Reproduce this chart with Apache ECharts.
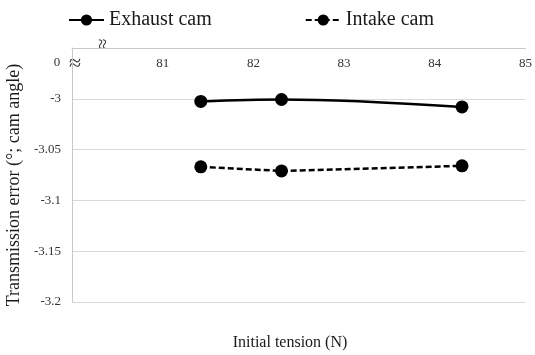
<!DOCTYPE html>
<html>
<head>
<meta charset="utf-8">
<script src="https://cdn.jsdelivr.net/npm/echarts@6/dist/echarts.min.js"></script>
<style>html,body{margin:0;padding:0;background:#fff}#c{width:535px;height:355px}</style>
</head>
<body>
<div id="c"></div>
<script>
const seriesNames = ['Exhaust cam', 'Intake cam'];
const tensionValues = [81.42, 82.31, 84.30];
const exhaustValues = [-3.0026, -3.0007, -3.008];
const intakeValues = [-3.067, -3.071, -3.066];
const xTicks = [80, 81, 82, 83, 84, 85];
const yTicks = [-3.2, -3.15, -3.1, -3.05, -3, -2.95];

const FONT = '"Liberation Serif","Times New Roman",serif';
const chart = echarts.init(document.getElementById('c'), null, {renderer: 'canvas'});
chart.setOption({
  animation: false,
  backgroundColor: '#fff',
  legend: {
    left: 63, top: 5, itemWidth: 35, itemHeight: 14, itemGap: 93,
    textStyle: {fontFamily: FONT, fontSize: 20, color: '#1a1a1a'},
    data: seriesNames
  },
  grid: {left: 72, right: 8, top: 48, bottom: 53, containLabel: false},
  xAxis: {
    type: 'value', position: 'top',
    min: xTicks[0], max: xTicks[xTicks.length - 1], interval: 1,
    axisLine: {show: true, onZero: false, lineStyle: {color: '#c8c8c8', width: 1}},
    axisTick: {show: false},
    splitLine: {show: false},
    axisLabel: {
      inside: true, margin: 9, color: '#333', fontFamily: FONT, fontSize: 13,
      formatter: v => (v === xTicks[0] ? '' : String(v))
    }
  },
  yAxis: {
    type: 'value',
    min: yTicks[0], max: yTicks[yTicks.length - 1], interval: 0.05,
    axisLine: {show: true, lineStyle: {color: '#c8c8c8', width: 1}},
    axisTick: {show: false},
    splitLine: {show: true, lineStyle: {color: '#d9d9d9', width: 1}},
    axisLabel: {
      margin: 11, color: '#333', fontFamily: FONT, fontSize: 13,
      formatter: v => (Math.abs(v - yTicks[yTicks.length - 1]) < 1e-9 ? '' : String(Math.round(v * 100) / 100))
    }
  },
  series: [
    {
      name: seriesNames[0], type: 'line', smooth: 0.35,
      data: tensionValues.map((x, i) => [x, exhaustValues[i]]),
      symbol: 'circle', symbolSize: 13,
      itemStyle: {color: '#000'},
      lineStyle: {color: '#000', width: 2.5, type: 'solid'}
    },
    {
      name: seriesNames[1], type: 'line',
      data: tensionValues.map((x, i) => [x, intakeValues[i]]),
      symbol: 'circle', symbolSize: 13,
      itemStyle: {color: '#000'},
      lineStyle: {color: '#000', width: 2.5, type: [6, 3]}
    }
  ],
  graphic: [
    {type: 'text', x: 57, y: 63, style: {text: '0', font: '13px ' + FONT, fill: '#333', align: 'center', verticalAlign: 'middle'}},
    {type: 'text', x: 75, y: 64, rotation: 0, style: {text: '≈', font: '22px ' + FONT, fill: '#333', align: 'center', verticalAlign: 'middle'}},
    {type: 'text', x: 104, y: 44, rotation: Math.PI / 2, style: {text: '≈', font: '20px ' + FONT, fill: '#333', align: 'center', verticalAlign: 'middle'}},
    {type: 'text', x: 290, y: 343, style: {text: 'Initial tension (N)', font: '16px ' + FONT, fill: '#1a1a1a', align: 'center', verticalAlign: 'middle'}},
    {type: 'text', x: 14, y: 185, rotation: Math.PI / 2, style: {text: 'Transmission error (°; cam angle)', font: '18px ' + FONT, fill: '#1a1a1a', align: 'center', verticalAlign: 'middle'}}
  ]
});
</script>
</body>
</html>
